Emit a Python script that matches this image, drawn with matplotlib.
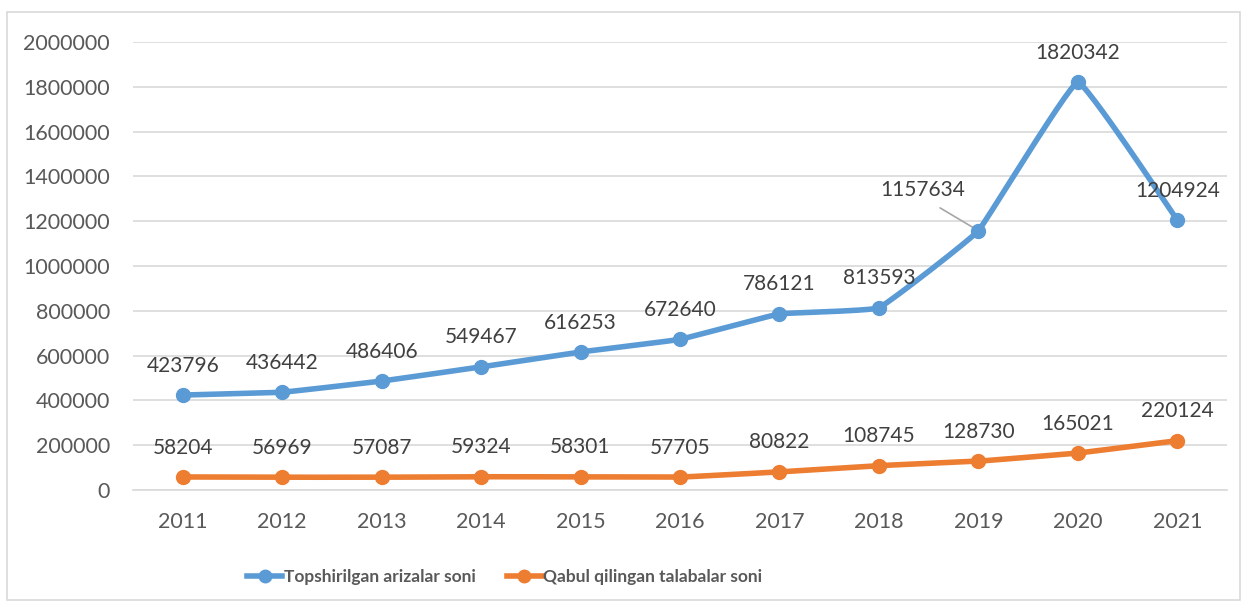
import numpy as np
import matplotlib
matplotlib.use("Agg")
import matplotlib.pyplot as plt
from matplotlib.lines import Line2D
from matplotlib.patches import Rectangle

years = ["2011", "2012", "2013", "2014", "2015", "2016", "2017", "2018", "2019", "2020", "2021"]
applications = [423796, 436442, 486406, 549467, 616253, 672640, 786121, 813593, 1157634, 1820342, 1204924]
admitted = [58204, 56969, 57087, 59324, 58301, 57705, 80822, 108745, 128730, 165021, 220124]
series_names = ["Topshirilgan arizalar soni", "Qabul qilingan talabalar soni"]

BLUE = "#5B9BD5"
ORANGE = "#ED7D31"
FONT = "Lato"

plt.rcParams['font.family'] = [FONT, 'DejaVu Sans']

fig = plt.figure(figsize=(12.45, 6.05), dpi=100)
ax = fig.add_axes([133/1245, 1 - 490/605, (1227-133)/1245, (490-42)/605])

# chart border
fig.patches.append(Rectangle((7/1245, 1 - 600/605), (1240-7)/1245, (600-12)/605,
                             transform=fig.transFigure, fill=False, edgecolor="#D9D9D9", lw=1.2))


def smooth(x, y, n=30, tension=0.12):
    # Hermite smoothing for display only (passes through every data point)
    x = np.asarray(x, float); y = np.asarray(y, float)
    xs, ys = [], []
    P = np.column_stack([x, y])
    P = np.vstack([P[0], P, P[-1]])
    for i in range(1, len(P) - 2):
        p0, p1, p2, p3 = P[i - 1], P[i], P[i + 1], P[i + 2]
        t = np.linspace(0, 1, n)[:, None]
        t2, t3 = t * t, t * t * t
        m1 = (p2 - p0) * tension
        m2 = (p3 - p1) * tension
        h00 = 2 * t3 - 3 * t2 + 1
        h10 = t3 - 2 * t2 + t
        h01 = -2 * t3 + 3 * t2
        h11 = t3 - t2
        pts = h00 * p1 + h10 * m1 + h01 * p2 + h11 * m2
        xs.extend(pts[:, 0]); ys.extend(pts[:, 1])
    return np.array(xs), np.array(ys)

x = np.arange(len(years))
for vals, col in [(applications, BLUE), (admitted, ORANGE)]:
    sx, sy = smooth(x, vals)
    ax.plot(sx, sy, color=col, lw=4, solid_capstyle="round", zorder=3)
    ax.plot(x, vals, 'o', color=col, ms=10, zorder=4)

ax.set_xlim(-0.5, len(years) - 0.5)
ax.set_ylim(0, 2000000)
ax.set_yticks(np.arange(0, 2000001, 200000))
ax.set_yticklabels([f"{v:d}" for v in range(0, 2000001, 200000)])
ax.set_xticks(x)
ax.set_xticklabels(years)
ax.tick_params(axis='both', length=0, labelsize=15.5, labelcolor="#595959")
ax.tick_params(axis='y', pad=16.5)
ax.tick_params(axis='x', pad=16)
ax.grid(axis='y', color="#D9D9D9", lw=1.2)
ax.set_axisbelow(True)
for s in ["top", "right", "left"]:
    ax.spines[s].set_visible(False)
ax.spines["bottom"].set_color("#D9D9D9")
ax.spines["bottom"].set_linewidth(1.2)

lab_kw = dict(ha="center", va="bottom", fontsize=15, color="#404040", zorder=5)
for i, v in enumerate(applications):
    if i == 8:
        ax.annotate(f"{v}", xy=(x[i], v), xytext=(-40, 22), textcoords="offset points",
                    ha="center", va="bottom", fontsize=15, color="#404040",
                    arrowprops=dict(arrowstyle="-", color="#A6A6A6", lw=1.2,
                                    shrinkA=7, shrinkB=0, relpos=(0.55, 0)))
    else:
        ax.annotate(f"{v}", xy=(x[i], v), xytext=(0, 14), textcoords="offset points", **lab_kw)
for i, v in enumerate(admitted):
    ax.annotate(f"{v}", xy=(x[i], v), xytext=(0, 14), textcoords="offset points", **lab_kw)

handles = [Line2D([0], [0], color=BLUE, lw=4, marker='o', ms=9),
           Line2D([0], [0], color=ORANGE, lw=4, marker='o', ms=9)]
leg = fig.legend(handles, series_names, loc="center", bbox_to_anchor=(505/1245, 1 - 577/605),
                 ncol=2, frameon=False, handlelength=2.0, handletextpad=0.1, columnspacing=1.8,
                 prop=dict(family=FONT, weight="bold", size=12.5))
for t in leg.get_texts():
    t.set_color("#595959")

fig.savefig("out.png", dpi=100)
